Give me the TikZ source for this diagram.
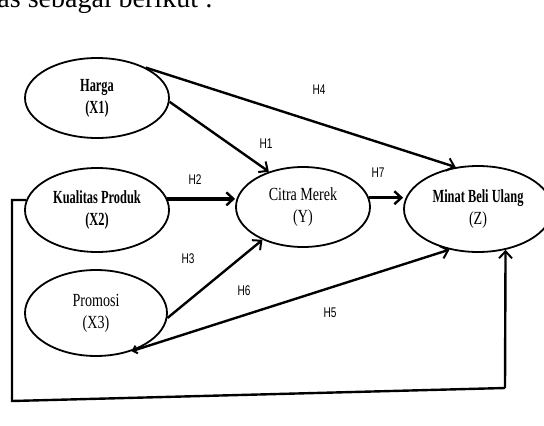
\documentclass[tikz,border=0pt]{standalone}
\usepackage{fontspec}
\setmainfont{Liberation Serif}
\newfontfamily\condr[FakeStretch=0.76]{Liberation Serif}
\newfontfamily\condb[FakeStretch=0.67]{Liberation Serif}
\newfontfamily\labfont[FakeStretch=0.72]{Liberation Sans}
\usetikzlibrary{shapes.geometric,arrows.meta}
\begin{document}
\begin{tikzpicture}[x=1pt,y=-1pt,
  var/.style={ellipse, draw, line width=1.8pt, inner sep=0pt, align=center,
    font=\fontsize{18.5}{22}\selectfont},
  conn/.style={line width=2.4pt, -{Straight Barb[length=7pt,width=13pt,line width=2pt]}},
  thickconn/.style={line width=3.4pt, -{Straight Barb[length=7pt,width=13pt,line width=2.4pt]}},
  hlab/.style={font=\labfont\fontsize{14}{16}\selectfont, inner sep=0pt}
]
\useasboundingbox (0,0) rectangle (544,426);
\clip (0,0) rectangle (544,426);

% cropped caption fragment at the top
\node[anchor=base east, inner sep=0pt, font=\fontsize{28}{30}\selectfont] (cap) at (213,7) {as sebagai berikut :};

% variables
\node[var, minimum width=144pt, minimum height=80pt] (harga) at (97,98)
  {{\condb\bfseries Harga}\\{\condb\bfseries (X1)}};
\node[var, minimum width=144pt, minimum height=84pt] (kual) at (97,210)
  {{\condb\bfseries Kualitas Produk}\\{\condb\bfseries (X2)}};
\node[var, minimum width=142pt, minimum height=86pt] (promo) at (96,313)
  {{\condr Promosi}\\{\condr (X3)}};
\node[var, minimum width=134pt, minimum height=80pt] (citra) at (303,207)
  {{\condr Citra Merek}\\{\condr (Y)}};
\node[var, minimum width=148pt, minimum height=86pt] (z) at (478,209)
  {{\condb\bfseries Minat Beli Ulang}\\{\condr (Z)}};

% connectors
\draw[conn] (harga.-3) -- (citra.134);
\draw[conn] (harga.32) -- (z.118);
\draw[thickconn] (kual.9) -- (kual.9 -| citra.west);
\draw[thickconn] (citra.8) -- (citra.8 -| z.west);
\draw[conn] (promo.-4) -- (citra.219);
\draw[line width=2.4pt, {Straight Barb[length=4pt,width=8pt,line width=2pt]}-{Straight Barb[length=7pt,width=13pt,line width=2pt]}]
  (promo.-47) -- (z.235);

% feedback loop
\coordinate (fa) at (12,200);
\coordinate (fb) at (12,401);
\coordinate (fc) at (505,388);
\draw[line width=2.4pt] (kual.172) -- (fa) -- (fb) -- (fc);
\draw[conn] (fc) -- (z.-56);

% labels
\node[hlab] (l4) at (319,90) {H4};
\node[hlab] (l1) at (266,144) {H1};
\node[hlab] (l2) at (195,180) {H2};
\node[hlab] (l7) at (378,173) {H7};
\node[hlab] (l3) at (188,259) {H3};
\node[hlab] (l6) at (244,291) {H6};
\node[hlab] (l5) at (330,313) {H5};
\end{tikzpicture}
\end{document}
